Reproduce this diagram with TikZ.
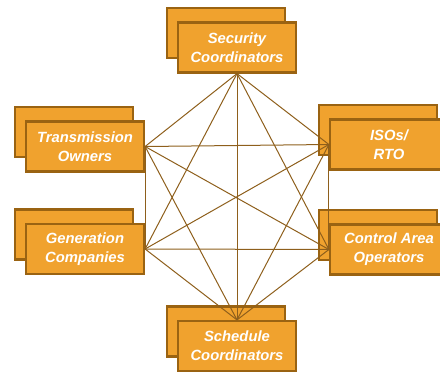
\documentclass[tikz,border=0pt]{standalone}
\usepackage{fontspec}
\setmainfont{Liberation Sans}
\definecolor{boxfill}{HTML}{F0A22E}
\definecolor{boxline}{HTML}{9A6312}
\definecolor{linkcol}{HTML}{8E5F1C}
\tikzset{
  party/.style={draw=boxline, fill=boxfill, line width=2.2pt, minimum width=118pt,
    minimum height=50pt, inner sep=0pt, align=center, text=white,
    font=\fontsize{14.8}{19}\selectfont\bfseries\itshape},
  shadowbox/.style={party},
  link/.style={draw=linkcol, line width=1pt}
}
\begin{document}
\begin{tikzpicture}[x=1pt, y=-1pt]
    \useasboundingbox (0,0) rectangle (440,373);
    % back copies
    \foreach \x/\y in {237/47.5, 85/146.5, 389/144.5, 85/249, 389/249.5, 237/346} {
      \node[shadowbox] at (\x-11, \y-14.5) {};
    }
    % front boxes
    \node[party] (sec) at (237, 47.5) {Security\\Coordinators};
    \node[party] (trans) at (85, 146.5) {Transmission\\Owners};
    \node[party] (iso) at (389, 144.5) {ISOs/\\RTO};
    \node[party] (gen) at (85, 249) {Generation\\Companies};
    \node[party] (ctrl) at (389, 249.5) {Control Area\\Operators};
    \node[party] (sched) at (237, 346) {Schedule\\Coordinators};
    \draw[link] (sec.south) -- (trans.east);
    \draw[link] (sec.south) -- (iso.west);
    \draw[link] (sec.south) -- (gen.east);
    \draw[link] (sec.south) -- (ctrl.west);
    \draw[link] (sec.south) -- (sched.north);
    \draw[link] (trans.east) -- (iso.west);
    \draw[link] (trans.east) -- (gen.east);
    \draw[link] (trans.east) -- (ctrl.west);
    \draw[link] (trans.east) -- (sched.north);
    \draw[link] (iso.west) -- (gen.east);
    \draw[link] (iso.west) -- (ctrl.west);
    \draw[link] (iso.west) -- (sched.north);
    \draw[link] (gen.east) -- (ctrl.west);
    \draw[link] (gen.east) -- (sched.north);
    \draw[link] (ctrl.west) -- (sched.north);
\end{tikzpicture}
\end{document}
